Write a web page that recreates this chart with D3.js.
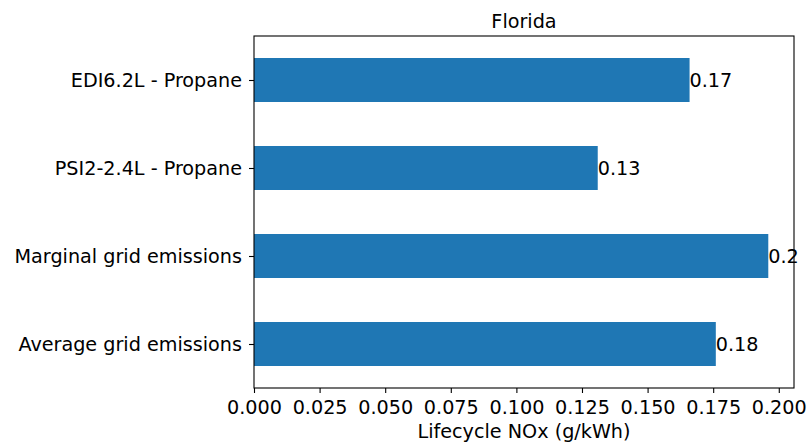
<!DOCTYPE html>
<html>
<head>
<meta charset="utf-8">
<script src="https://cdn.jsdelivr.net/npm/d3@7"></script>
<style>
  body { margin: 0; background: #fff; }
  text { font-family: "DejaVu Sans", sans-serif; fill: #000; }
</style>
</head>
<body>
<div id="chart"></div>
<script>
/* DATA */
const categories = ["EDI6.2L - Propane", "PSI2-2.4L - Propane", "Marginal grid emissions", "Average grid emissions"];
const values = [0.166, 0.131, 0.196, 0.176];
const valueLabels = ["0.17", "0.13", "0.2", "0.18"];
const xTicks = [0, 0.025, 0.05, 0.075, 0.1, 0.125, 0.15, 0.175, 0.2];

/* CONSTANTS */
const width = 811,
  height = 444,
  margin = { top: 36, right: 17, bottom: 56, left: 254 },
  fontSize = 19.2;

const svg = d3.select("#chart")
  .append("svg")
  .attr("width", width)
  .attr("height", height);

// scales - matplotlib style 5% margin on the right
const xMax = d3.max(values) * 1.05;
const xScale = d3.scaleLinear()
  .domain([0, xMax])
  .range([margin.left, width - margin.right]);

const yScale = d3.scaleLinear()
  .domain([-0.5, categories.length - 0.5])
  .range([margin.top, height - margin.bottom]);

const bandH = yScale(1) - yScale(0);

// bars
svg.selectAll("rect.bar")
  .data(values)
  .join("rect")
  .attr("class", "bar")
  .attr("x", xScale(0))
  .attr("y", (d, i) => yScale(i) - bandH * 0.25)
  .attr("width", d => xScale(d) - xScale(0))
  .attr("height", bandH * 0.5)
  .attr("fill", "#1f77b4");

// value labels
svg.selectAll("text.val")
  .data(values)
  .join("text")
  .attr("class", "val")
  .attr("x", d => xScale(d))
  .attr("y", (d, i) => yScale(i))
  .attr("dy", "0.36em")
  .style("font-size", fontSize + "px")
  .text((d, i) => valueLabels[i]);

// axes
const xAxis = d3.axisBottom(xScale)
  .tickValues(xTicks)
  .tickFormat(d3.format(".3f"))
  .tickSize(5)
  .tickPadding(7);

const yAxis = d3.axisLeft(yScale)
  .tickValues(d3.range(categories.length))
  .tickFormat(i => categories[i])
  .tickSize(5)
  .tickPadding(7);

const xg = svg.append("g")
  .attr("transform", `translate(0,${height - margin.bottom})`)
  .call(xAxis);

const yg = svg.append("g")
  .attr("transform", `translate(${margin.left},0)`)
  .call(yAxis);

[xg, yg].forEach(g => {
  g.select(".domain").remove();
  g.selectAll(".tick line").attr("stroke", "#000").attr("stroke-width", 1.1);
  g.selectAll(".tick text").style("font-size", fontSize + "px").style("font-family", "DejaVu Sans");
});

// frame
svg.append("rect")
  .attr("x", margin.left)
  .attr("y", margin.top)
  .attr("width", width - margin.right - margin.left)
  .attr("height", height - margin.bottom - margin.top)
  .attr("fill", "none")
  .attr("stroke", "#000")
  .attr("stroke-width", 1.1);

// title
svg.append("text")
  .attr("x", (margin.left + width - margin.right) / 2)
  .attr("y", 28)
  .attr("text-anchor", "middle")
  .style("font-size", fontSize + "px")
  .text("Florida");

// x axis label
svg.append("text")
  .attr("x", (margin.left + width - margin.right) / 2)
  .attr("y", 438)
  .attr("text-anchor", "middle")
  .style("font-size", fontSize + "px")
  .text("Lifecycle NOx (g/kWh)");
</script>
</body>
</html>
